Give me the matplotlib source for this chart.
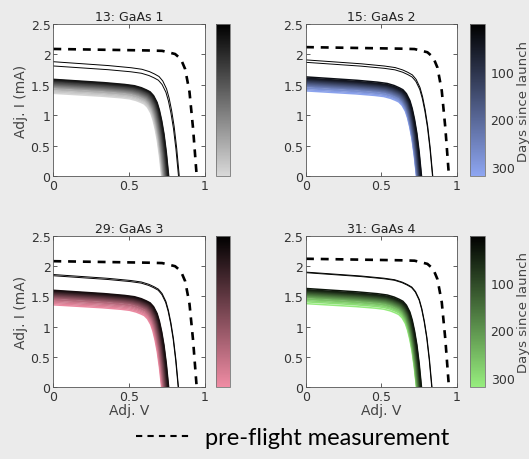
import numpy as np
import matplotlib
matplotlib.use("Agg")
import matplotlib.pyplot as plt
from matplotlib.colors import LinearSegmentedColormap, Normalize
from matplotlib.lines import Line2D
import matplotlib.cm as cm

# panel titles and colormap end colours
titles = ["13: GaAs 1", "15: GaAs 2", "29: GaAs 3", "31: GaAs 4"]
light_colors = ["#d9d9d9", "#8ea6f2", "#f08ca4", "#97ee7e"]

# normalised I-V shapes (V/Voc, I/Isc)
pre_vfrac = [0, 0.3, 0.6, 0.76, 0.85, 0.89, 0.92, 0.95, 0.975, 1.0]
pre_ifrac = [1.0, 0.995, 0.99, 0.985, 0.96, 0.92, 0.84, 0.66, 0.37, 0.0]
fl_vfrac = [0, 0.2, 0.4, 0.6, 0.7, 0.76, 0.8, 0.84, 0.87, 0.9, 0.92, 0.94, 0.96, 0.98, 1.0]
fl_ifrac = [1.0, 0.985, 0.97, 0.95, 0.935, 0.915, 0.895, 0.87, 0.83, 0.76, 0.68, 0.57, 0.43, 0.24, 0.0]

# pre-flight curve per panel
pre_isc = [2.09, 2.12, 2.08, 2.12]
pre_voc = [0.945, 0.947, 0.945, 0.947]

# measurement days (first two are the early curves)
days = [2, 9, 30, 45, 60, 75, 90, 105, 120, 135, 150, 165, 180, 195,
        210, 225, 240, 255, 270, 285, 300, 315]

isc_1 = [1.88, 1.81, 1.59, 1.58, 1.57, 1.56, 1.555, 1.54, 1.53, 1.52, 1.51,
         1.50, 1.49, 1.48, 1.47, 1.46, 1.45, 1.43, 1.42, 1.40, 1.38, 1.36]
voc_1 = [0.83, 0.825, 0.76, 0.758, 0.755, 0.752, 0.75, 0.748, 0.745, 0.743, 0.74,
         0.738, 0.735, 0.733, 0.73, 0.728, 0.726, 0.724, 0.722, 0.72, 0.717, 0.714]
isc_2 = [1.91, 1.87, 1.63, 1.61, 1.60, 1.59, 1.58, 1.57, 1.56, 1.55, 1.54,
         1.53, 1.52, 1.51, 1.50, 1.49, 1.48, 1.47, 1.45, 1.44, 1.42, 1.40]
voc_2 = [0.84, 0.838, 0.765, 0.763, 0.76, 0.758, 0.756, 0.754, 0.752, 0.75, 0.748,
         0.746, 0.744, 0.742, 0.74, 0.738, 0.737, 0.736, 0.735, 0.734, 0.733, 0.732]
isc_3 = [1.86, 1.84, 1.60, 1.59, 1.58, 1.57, 1.56, 1.55, 1.54, 1.53, 1.52,
         1.51, 1.50, 1.49, 1.48, 1.47, 1.45, 1.44, 1.42, 1.40, 1.38, 1.36]
voc_3 = [0.825, 0.823, 0.76, 0.758, 0.755, 0.752, 0.75, 0.748, 0.745, 0.743, 0.74,
         0.738, 0.735, 0.733, 0.73, 0.728, 0.726, 0.724, 0.722, 0.72, 0.717, 0.714]
isc_4 = [1.90, 1.89, 1.63, 1.61, 1.60, 1.59, 1.58, 1.57, 1.56, 1.55, 1.54,
         1.53, 1.52, 1.51, 1.50, 1.49, 1.48, 1.46, 1.45, 1.43, 1.41, 1.38]
voc_4 = [0.835, 0.833, 0.765, 0.763, 0.76, 0.758, 0.756, 0.754, 0.752, 0.75, 0.748,
         0.746, 0.744, 0.742, 0.74, 0.738, 0.737, 0.736, 0.735, 0.734, 0.733, 0.732]

isc_all = [isc_1, isc_2, isc_3, isc_4]
voc_all = [voc_1, voc_2, voc_3, voc_4]

xticks = [0, 0.5, 1]
yticks = [0, 0.5, 1, 1.5, 2, 2.5]
cbar_ticks = [100, 200, 300]
day_min, day_max = 0, 320

plt.rcParams['font.family'] = ['DejaVu Sans']
fig = plt.figure(figsize=(5.29, 4.60), dpi=100, facecolor='#ebebeb')

ax_pos = [[0.1008, 0.6152, 0.2868, 0.3304], [0.5784, 0.6152, 0.2854, 0.3304],
          [0.1008, 0.1558, 0.2868, 0.3296], [0.5784, 0.1558, 0.2854, 0.3296]]
cb_pos = [[0.4083, 0.6152, 0.0265, 0.3304], [0.8885, 0.6152, 0.0284, 0.3304],
          [0.4083, 0.1558, 0.0265, 0.3296], [0.8885, 0.1558, 0.0284, 0.3296]]

norm = Normalize(vmin=day_min, vmax=day_max)
vgrid = np.linspace(0, 1, 200)

for k in range(4):
    cmap = LinearSegmentedColormap.from_list('c%d' % k, ['#000000', light_colors[k]])
    ax = fig.add_axes(ax_pos[k])
    # flight curves, latest first so the dark early ones sit on top
    for j in reversed(range(len(days))):
        v = vgrid * voc_all[k][j]
        i = np.interp(vgrid, fl_vfrac, fl_ifrac) * isc_all[k][j]
        lw = 0.7 if j < 2 else 1.1
        ax.plot(v, i, color=cmap(norm(days[j])), lw=lw)
    vp = vgrid * pre_voc[k]
    ip = np.interp(vgrid, pre_vfrac, pre_ifrac) * pre_isc[k]
    ax.plot(vp, ip, color='k', lw=1.9, ls=(0, (3, 2.6)))

    ax.set_xlim(0, 1)
    ax.set_ylim(0, 2.5)
    ax.set_xticks(xticks)
    ax.set_xticklabels(['0', '0.5', '1'])
    ax.set_yticks(yticks)
    ax.set_yticklabels(['0', '0.5', '1', '1.5', '2', '2.5'])
    ax.tick_params(direction='in', top=True, right=True, length=3, width=0.6,
                   labelsize=9, colors='#444444', labelcolor='#333333', pad=2)
    for s in ax.spines.values():
        s.set_linewidth(0.6)
        s.set_color('#555555')
    ax.set_title(titles[k], fontsize=9, color='#222222', pad=3)
    if k % 2 == 0:
        ax.set_ylabel('Adj. I (mA)', fontsize=10, color='#444444', labelpad=2)
    if k >= 2:
        ax.set_xlabel('Adj. V', fontsize=10, color='#444444', labelpad=0)

    cax = fig.add_axes(cb_pos[k])
    sm = cm.ScalarMappable(norm=norm, cmap=cmap)
    cb = fig.colorbar(sm, cax=cax)
    cb.ax.invert_yaxis()
    cb.outline.set_edgecolor('#777777')
    cb.outline.set_linewidth(0.6)
    if k % 2 == 1:
        cb.set_ticks(cbar_ticks)
        cb.ax.tick_params(length=0, labelsize=9, labelcolor='#333333', pad=4)
        cb.set_label('Days since launch', fontsize=9.5, color='#444444', labelpad=2)
    else:
        cb.set_ticks([])

handle = Line2D([], [], color='k', lw=1.5, ls=(0, (3, 2.5)))
fig.legend([handle], ['pre-flight measurement'], loc='center',
           bbox_to_anchor=(0.553, 0.047), frameon=False, handlelength=2.3,
           handletextpad=0.6, prop={'family': 'Lato', 'size': 17})

fig.savefig('out.png', dpi=100, facecolor=fig.get_facecolor())
